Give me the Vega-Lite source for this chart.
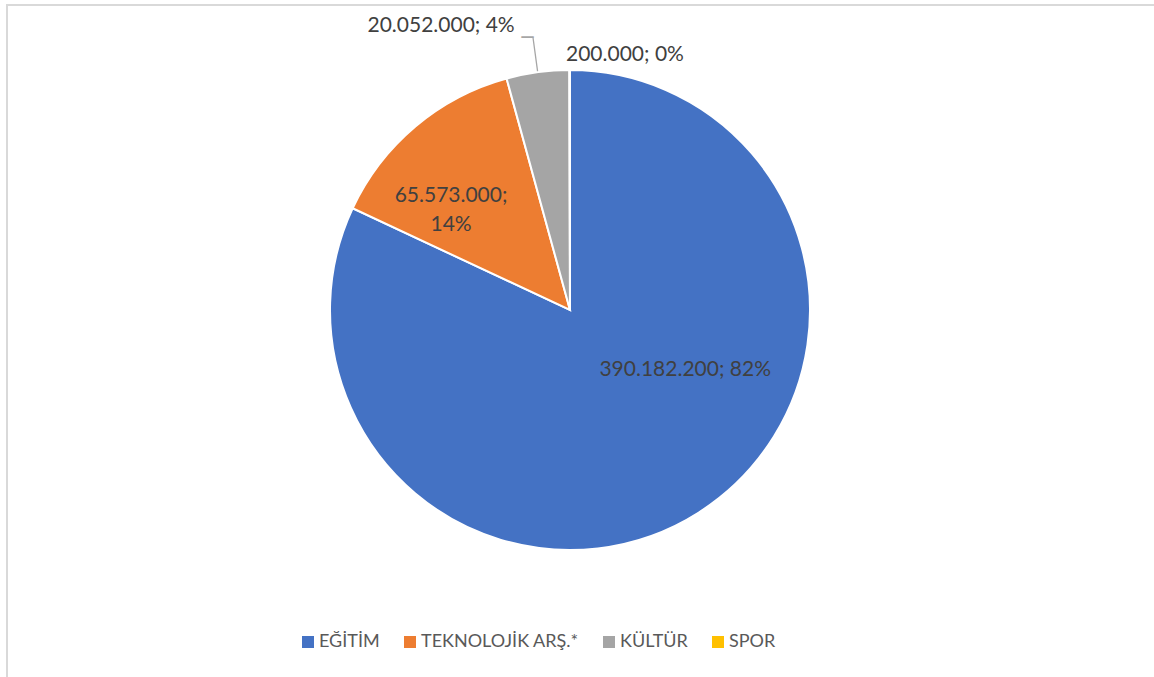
{
  "$schema": "https://vega.github.io/schema/vega-lite/v6.json",
  "width": 1160,
  "height": 700,
  "autosize": {"type": "none"},
  "padding": {"left": 7, "top": 5, "right": 0, "bottom": 0},
  "background": "white",
  "view": {"stroke": "#d9d9d9", "strokeWidth": 2},
  "config": {"view": {"stroke": "#d9d9d9", "strokeWidth": 2}, "font": "Lato"},
  "data": {
    "values": [
      {"category": "EĞİTİM", "value": 390182200, "label": "390.182.200; 82%"},
      {"category": "TEKNOLOJİK ARŞ.*", "value": 65573000, "label": "65.573.000;\n14%"},
      {"category": "KÜLTÜR", "value": 20052000, "label": "20.052.000; 4%"},
      {"category": "SPOR", "value": 200000, "label": "200.000; 0%"}
    ]
  },
  "encoding": {
    "theta": {"field": "value", "type": "quantitative", "stack": true},
    "order": {"field": "value", "type": "quantitative", "sort": "descending"}
  },
  "layer": [
    {
      "mark": {"type": "arc", "outerRadius": 240, "stroke": "white", "strokeWidth": 2, "xOffset": -17, "yOffset": -45},
      "encoding": {
        "color": {
          "field": "category",
          "type": "nominal",
          "scale": {
            "domain": ["EĞİTİM", "TEKNOLOJİK ARŞ.*", "KÜLTÜR", "SPOR"],
            "range": ["#4472C4", "#ED7D31", "#A5A5A5", "#FFC000"]
          },
          "legend": {
            "orient": "none",
            "legendX": 292,
            "legendY": 628,
            "direction": "horizontal",
            "title": null,
            "symbolType": "square",
            "symbolSize": 144,
            "symbolStrokeWidth": 0,
            "labelFontSize": 18,
            "labelColor": "#595959",
            "labelFont": "Lato",
            "labelOffset": 2,
            "columnPadding": 21,
            "padding": 0
          }
        }
      }
    },
    {
      "mark": {"type": "arc", "innerRadius": 241, "outerRadius": 275, "padAngle": 0.3, "fillOpacity": 0, "stroke": "#a6a6a6", "strokeWidth": 1.3, "xOffset": -17, "yOffset": -45},
      "encoding": {
        "detail": {"field": "category", "type": "nominal"},
        "strokeOpacity": {"condition": {"test": "datum.category === 'KÜLTÜR'", "value": 1}, "value": 0}
      }
    },
    {
      "mark": {"type": "text", "radius": 275, "thetaOffset": -0.0201, "font": "DejaVu Sans Mono", "fontSize": 20, "color": "#a6a6a6", "align": "center", "baseline": "middle", "xOffset": -17, "yOffset": -45},
      "encoding": {
        "detail": {"field": "category", "type": "nominal"},
        "text": {"condition": {"test": "datum.category === 'KÜLTÜR'", "value": "─"}, "value": ""}
      }
    },
    {
      "mark": {"type": "text", "radius": 130, "thetaOffset": -0.5227, "fontSize": 21, "color": "#404040", "align": "center", "baseline": "middle", "xOffset": -17, "yOffset": -45},
      "encoding": {
        "detail": {"field": "category", "type": "nominal"},
        "text": {"condition": {"test": "datum.category === 'EĞİTİM'", "field": "label"}, "value": ""}
      }
    },
    {
      "mark": {"type": "text", "radius": 165, "thetaOffset": -0.105, "fontSize": 21, "color": "#404040", "align": "center", "baseline": "middle", "lineBreak": "\n", "lineHeight": 29, "xOffset": -17, "yOffset": -45},
      "encoding": {
        "detail": {"field": "category", "type": "nominal"},
        "text": {"condition": {"test": "datum.category === 'TEKNOLOJİK ARŞ.*'", "field": "label"}, "value": ""}
      }
    },
    {
      "mark": {"type": "text", "radius": 312, "thetaOffset": -0.291, "fontSize": 21, "color": "#404040", "align": "center", "baseline": "middle", "xOffset": -17, "yOffset": -45},
      "encoding": {
        "detail": {"field": "category", "type": "nominal"},
        "text": {"condition": {"test": "datum.category === 'KÜLTÜR'", "field": "label"}, "value": ""}
      }
    },
    {
      "mark": {"type": "text", "radius": 261, "thetaOffset": 0.2135, "fontSize": 21, "color": "#404040", "align": "center", "baseline": "middle", "xOffset": -17, "yOffset": -45},
      "encoding": {
        "detail": {"field": "category", "type": "nominal"},
        "text": {"condition": {"test": "datum.category === 'SPOR'", "field": "label"}, "value": ""}
      }
    }
  ]
}
